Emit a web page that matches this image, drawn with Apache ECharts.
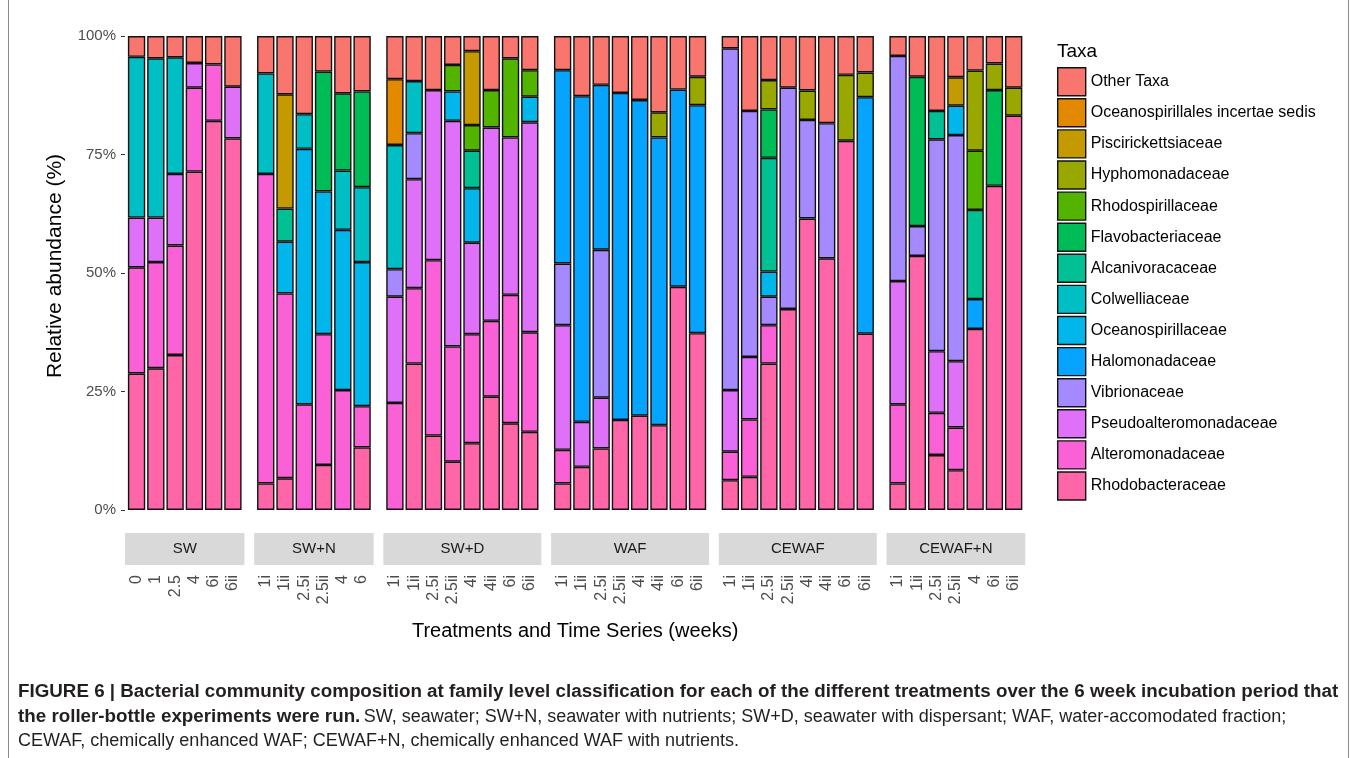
<!DOCTYPE html>
<html>
<head>
<meta charset="utf-8">
<script src="https://cdn.jsdelivr.net/npm/echarts@6/dist/echarts.min.js"></script>
<style>
html,body{margin:0;padding:0;background:#fff;}
#chart{width:1357px;height:758px;}
</style>
</head>
<body>
<div id="chart"></div>
<script>
// ---------- DATA ----------
const panels = ['SW', 'SW+N', 'SW+D', 'WAF', 'CEWAF', 'CEWAF+N'];
const samplesSW = ['0', '1', '2.5', '4', '6i', '6ii'];
const samplesSWN = ['1i', '1ii', '2.5i', '2.5ii', '4', '6'];
const samplesSWD = ['1i', '1ii', '2.5i', '2.5ii', '4i', '4ii', '6i', '6ii'];
const samplesWAF = ['1i', '1ii', '2.5i', '2.5ii', '4i', '4ii', '6i', '6ii'];
const samplesCEWAF = ['1i', '1ii', '2.5i', '2.5ii', '4i', '4ii', '6i', '6ii'];
const samplesCEWAFN = ['1i', '1ii', '2.5i', '2.5ii', '4', '6i', '6ii'];
const panelSamples = [samplesSW, samplesSWN, samplesSWD, samplesWAF, samplesCEWAF, samplesCEWAFN];

// Relative abundance (%) per taxon, 43 samples in panel order (SW | SW+N | SW+D | WAF | CEWAF | CEWAF+N)
const rhodobacteraceae    = [28.8,29.9,32.7,71.4,82.1,78.4, 5.6,6.7,0,9.5,0,13.2, 0,30.9,15.7,10.2,14.1,23.9,18.3,16.5, 5.6,9.1,13.0,19.0,19.9,17.9,47.1,37.3, 6.3,7.0,30.9,42.4,61.5,53.1,77.9,37.2, 5.6,53.6,11.6,8.4,38.2,68.4,83.2];
const alteromonadaceae    = [22.4,22.4,23.1,17.7,11.9,0, 65.3,39.0,22.3,27.6,25.3,8.7, 22.6,15.9,37.0,24.3,23.0,16.0,27.1,21.0, 7.1,0,0,0,0,0,0,0, 6.0,12.1,8.1,0,0,0,0,0, 16.7,0,8.9,9.0,0,0,0];
const pseudoalteromonadaceae = [10.5,9.4,15.1,5.2,0,10.9, 0,0,0,0,0,0, 22.4,23.0,35.9,47.6,19.3,40.8,33.2,44.3, 26.3,9.5,10.7,0,0,0,0,0, 13.0,13.2,0,0,0,0,0,0, 26.0,0,13.0,14.0,0,0,0];
const vibrionaceae        = [0,0,0,0,0,0, 0,0,0,0,0,0, 5.8,9.7,0,0,0,0,0,0, 13.0,0,31.2,0,0,0,0,0, 72.1,51.9,6.0,46.7,20.8,28.5,0,0, 47.5,6.3,44.7,47.7,0,0,0];
const halomonadaceae      = [0,0,0,0,0,0, 0,0,0,0,0,0, 0,0,0,0,0,0,0,0, 40.8,68.7,34.8,69.0,66.6,60.7,41.6,48.1, 0,0,0,0,0,0,0,49.9, 0,0,0,0,6.3,0,0];
const oceanospirillaceae  = [0,0,0,0,0,0, 0,10.9,53.9,30.1,33.8,30.4, 0,0,0,6.2,11.5,0,0,5.4, 0,0,0,0,0,0,0,0, 0,0,5.3,0,0,0,0,0, 0,0,0,6.2,0,0,0];
const colwelliaceae       = [33.9,33.6,24.6,0,0,0, 21.2,0,7.3,0,12.5,15.8, 26.2,11.0,0,0,0,0,0,0, 0,0,0,0,0,0,0,0, 0,0,0,0,0,0,0,0, 0,0,0,0,0,0,0];
const alcanivoracaceae    = [0,0,0,0,0,0, 0,7.0,0,0,0,0, 0,0,0,0,7.9,0,0,0, 0,0,0,0,0,0,0,0, 0,0,24.0,0,0,0,0,0, 0,0,6.0,0,18.8,0,0];
const flavobacteriaceae   = [0,0,0,0,0,0, 0,0,0,25.3,16.3,20.2, 0,0,0,0,0,0,0,0, 0,0,0,0,0,0,0,0, 0,0,10.2,0,0,0,0,0, 0,31.5,0,0,0,20.2,0];
const rhodospirillaceae   = [0,0,0,0,0,0, 0,0,0,0,0,0, 0,0,0,5.6,5.4,7.9,16.7,5.6, 0,0,0,0,0,0,0,0, 0,0,0,0,0,0,0,0, 0,0,0,0,12.5,0,0];
const hyphomonadaceae     = [0,0,0,0,0,0, 0,0,0,0,0,0, 0,0,0,0,0,0,0,0, 0,0,0,0,0,5.3,0,6.0, 0,0,6.2,0,6.2,0,13.9,5.2, 0,0,0,0,16.9,5.6,5.9];
const piscirickettsiaceae = [0,0,0,0,0,0, 0,24.1,0,0,0,0, 0,0,0,0,15.6,0,0,0, 0,0,0,0,0,0,0,0, 0,0,0,0,0,0,0,0, 0,0,0,6.0,0,0,0];
const oceanospirillalesIS = [0,0,0,0,0,0, 0,0,0,0,0,0, 13.9,0,0,0,0,0,0,0, 0,0,0,0,0,0,0,0, 0,0,0,0,0,0,0,0, 0,0,0,0,0,0,0];
const otherTaxa           = [4.4,4.7,4.5,5.7,6.0,10.7, 7.9,12.3,16.5,7.5,12.1,11.7, 9.1,9.5,11.4,6.1,3.2,11.4,4.7,7.2, 7.2,12.7,10.3,12.0,13.5,16.1,11.3,8.6, 2.6,15.8,9.3,10.9,11.5,18.4,8.2,7.7, 4.2,8.6,15.8,8.7,7.3,5.8,10.9];

// Legend order (top to bottom); stacking is the reverse (Rhodobacteraceae at the bottom)
const taxaNames = ['Other Taxa', 'Oceanospirillales incertae sedis', 'Piscirickettsiaceae', 'Hyphomonadaceae',
  'Rhodospirillaceae', 'Flavobacteriaceae', 'Alcanivoracaceae', 'Colwelliaceae', 'Oceanospirillaceae',
  'Halomonadaceae', 'Vibrionaceae', 'Pseudoalteromonadaceae', 'Alteromonadaceae', 'Rhodobacteraceae'];
const taxaValues = [otherTaxa, oceanospirillalesIS, piscirickettsiaceae, hyphomonadaceae, rhodospirillaceae,
  flavobacteriaceae, alcanivoracaceae, colwelliaceae, oceanospirillaceae, halomonadaceae, vibrionaceae,
  pseudoalteromonadaceae, alteromonadaceae, rhodobacteraceae];
const taxaColors = ['#F8766D', '#E38900', '#C49A00', '#99A800', '#53B400', '#00BC56', '#00C094', '#00BFC4',
  '#00B6EB', '#06A4FF', '#A58AFF', '#DF70F8', '#FB61D7', '#FF66A8'];

// ---------- LAYOUT ----------
const FONT = "'Liberation Sans', Arial, Helvetica, sans-serif";
const unit = 19.27;
const panelStart = 125;
const panelGap = 9.7;
const plotTop = 36;
const plotHeight = 474;
const stripTop = 533;
const stripH = 32;

const grids = [], xAxes = [], yAxes = [], series = [], graphics = [];
let px = panelStart;
let offsetIdx = 0;
panelSamples.forEach((samples, g) => {
  const n = samples.length;
  const panelW = (n + 0.2) * unit;
  grids.push({ left: px + 0.1 * unit, top: plotTop, width: n * unit, height: plotHeight, containLabel: false });
  xAxes.push({
    type: 'category', gridIndex: g, data: samples,
    axisLine: { show: false }, axisTick: { show: false }, splitLine: { show: false },
    axisLabel: { rotate: 90, margin: 65, fontSize: 16, color: '#4D4D4D', fontFamily: FONT, interval: 0 }
  });
  yAxes.push({
    type: 'value', gridIndex: g, min: 0, max: 100, interval: 25,
    show: g === 0, offset: 0.1 * unit,
    axisLine: { show: false },
    axisTick: { show: true, length: 4, lineStyle: { color: '#333333', width: 1 } },
    splitLine: { show: false },
    axisLabel: { margin: 9, fontSize: 15, color: '#4D4D4D', fontFamily: FONT, formatter: v => v + '%' }
  });
  graphics.push({ type: 'rect', shape: { x: px, y: stripTop, width: panelW, height: stripH },
    style: { fill: '#D9D9D9' }, silent: true });
  graphics.push({ type: 'text', x: px + panelW / 2, y: stripTop + stripH / 2,
    style: { text: panels[g], fill: '#1A1A1A', font: '15px ' + FONT, textAlign: 'center', textVerticalAlign: 'middle' } });
  for (let t = taxaNames.length - 1; t >= 0; t--) {
    const vals = taxaValues[t].slice(offsetIdx, offsetIdx + n).map(v => (v > 0 ? v : '-'));
    series.push({
      type: 'bar', name: taxaNames[t], stack: 'p' + g, xAxisIndex: g, yAxisIndex: g,
      data: vals, barWidth: '90%',
      itemStyle: { color: taxaColors[t], borderColor: '#111111', borderWidth: 1.4 },
      emphasis: { disabled: true }
    });
  }
  offsetIdx += n;
  px += panelW + panelGap;
});
const panelsEnd = px - panelGap;

// axis titles
graphics.push({ type: 'text', x: (panelStart + panelsEnd) / 2, y: 631,
  style: { text: 'Treatments and Time Series (weeks)', fill: '#000', font: '20px ' + FONT, textAlign: 'center', textVerticalAlign: 'middle' } });
graphics.push({ type: 'text', x: 55, y: 266, rotation: Math.PI / 2,
  style: { text: 'Relative abundance (%)', fill: '#000', font: '21px ' + FONT, textAlign: 'center', textVerticalAlign: 'middle' } });
// legend title
graphics.push({ type: 'text', x: 1057, y: 52,
  style: { text: 'Taxa', fill: '#000', font: '19px ' + FONT, textAlign: 'left', textVerticalAlign: 'middle' } });
// frame lines
graphics.push({ type: 'line', shape: { x1: 8.5, y1: 0, x2: 8.5, y2: 758 }, style: { stroke: '#8C8C8C', lineWidth: 1 } });
graphics.push({ type: 'line', shape: { x1: 1348.5, y1: 0, x2: 1348.5, y2: 758 }, style: { stroke: '#8C8C8C', lineWidth: 1 } });
// caption
graphics.push({ type: 'text', x: 18, y: 692,
  style: { text: 'FIGURE 6 | Bacterial community composition at family level classification for each of the different treatments over the 6 week incubation period that',
    fill: '#231F20', font: 'bold 18.8px ' + FONT, textVerticalAlign: 'middle' } });
graphics.push({ type: 'text', x: 18, y: 717,
  style: { text: '{b|the roller-bottle experiments were run.} {r|SW, seawater; SW+N, seawater with nutrients; SW+D, seawater with dispersant; WAF, water-accomodated fraction;}',
    textVerticalAlign: 'middle',
    rich: { b: { fontWeight: 'bold', fontSize: 18.8, fontFamily: FONT, fill: '#231F20', color: '#231F20' },
            r: { fontSize: 18, fontFamily: FONT, fill: '#231F20', color: '#231F20' } } } });
graphics.push({ type: 'text', x: 18, y: 741,
  style: { text: 'CEWAF, chemically enhanced WAF; CEWAF+N, chemically enhanced WAF with nutrients.',
    fill: '#231F20', font: '18px ' + FONT, textVerticalAlign: 'middle' } });

const chart = echarts.init(document.getElementById('chart'), null, { renderer: 'canvas' });
chart.setOption({
  animation: false,
  backgroundColor: '#fff',
  textStyle: { fontFamily: FONT },
  grid: grids,
  xAxis: xAxes,
  yAxis: yAxes,
  legend: {
    data: taxaNames, orient: 'vertical', left: 1057, top: 67, padding: 0,
    itemWidth: 28, itemHeight: 28, itemGap: 1.7, icon: 'rect',
    itemStyle: { borderColor: '#111111', borderWidth: 1.4 },
    textStyle: { fontSize: 16, color: '#000', fontFamily: FONT },
    selectedMode: false
  },
  tooltip: { show: false },
  series: series,
  graphic: graphics
});
</script>
</body>
</html>
